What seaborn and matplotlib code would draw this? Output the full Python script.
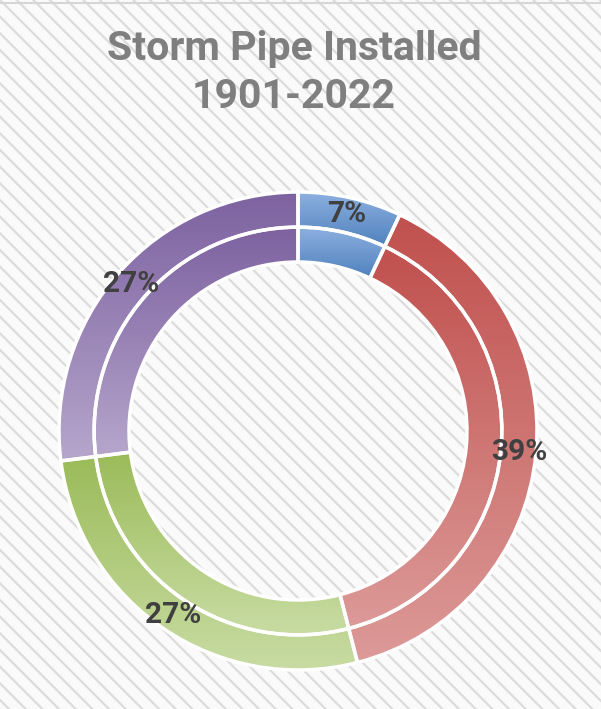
import numpy as np
import matplotlib
matplotlib.use("Agg")
import matplotlib.pyplot as plt
import seaborn as sns
from matplotlib.patches import Rectangle

# data
segments = ["Segment 1", "Segment 2", "Segment 3", "Segment 4"]
outer_values = [7, 39, 27, 27]
inner_values = [7, 39, 27, 27]
title = "Storm Pipe Installed\n1901-2022"

# gradient colours (top -> bottom of each slice)
top_colors = ["#8DB0E0", "#C0504D", "#9BBB59", "#7D62A0"]
bottom_colors = ["#4F81BD", "#DC9A98", "#C8DCA3", "#B6A6CC"]

sns.set_theme(style="white")
plt.rcParams["font.family"] = ["Roboto", "DejaVu Sans"]
plt.rcParams["hatch.linewidth"] = 1.6

W, H = 601, 709
fig = plt.figure(figsize=(W / 100, H / 100), dpi=100)
fig.patch.set_facecolor("white")

# hatched background
bg = fig.add_axes([0, 0, 1, 1], zorder=-1)
bg.add_patch(Rectangle((0, 0), 1, 1, transform=bg.transAxes, facecolor="#FAFAFA",
                       edgecolor="#DCDCDC", hatch="\\\\", linewidth=0))
bg.axhline(1 - 3 / H, color="#D6D6D6", lw=1.5)
bg.set_xlim(0, 1)
bg.set_ylim(0, 1)
bg.axis("off")

# doughnut axes, centre at (298, 431) px, outer radius 239 px
cx, cy, R = 298, H - 431, 239
ax = fig.add_axes([(cx - R) / W, (cy - R) / H, 2 * R / W, 2 * R / H])
ax.set_facecolor("none")

r_out, r_mid, r_in = 1.0, 0.853, 0.707
wp = dict(edgecolor="white", linewidth=2.5)

outer, _, autotexts = ax.pie(outer_values, radius=r_out, startangle=90, counterclock=False,
                             wedgeprops=dict(width=r_out - r_mid, **wp),
                             autopct="%.0f%%", pctdistance=0.93,
                             textprops=dict(fontsize=21.5, fontweight="bold", color="#404040"))
inner, _ = ax.pie(inner_values, radius=r_mid, startangle=90, counterclock=False,
                  wedgeprops=dict(width=r_mid - r_in, **wp))

grad = np.linspace(0, 1, 256).reshape(-1, 1)
for wedges in (outer, inner):
    for w, c0, c1 in zip(wedges, top_colors, bottom_colors):
        ext = w.get_path().get_extents()
        cmap = sns.blend_palette([c0, c1], n_colors=256, as_cmap=True)
        im = ax.imshow(grad, cmap=cmap, extent=[ext.x0, ext.x1, ext.y0, ext.y1],
                       origin="upper", aspect="auto", zorder=1)
        im.set_clip_path(w)
        w.set_facecolor("none")
        w.set_zorder(2)

for t in autotexts:
    t.set_zorder(4)

ax.set_xlim(-1, 1)
ax.set_ylim(-1, 1)
ax.set_aspect("equal")
ax.axis("off")

fig.text(294 / W, 1 - 73 / H, title, ha="center", va="center", fontsize=29.5,
         fontweight="bold", color="#7F7F7F", linespacing=1.3)

plt.savefig("out.png", dpi=100)
